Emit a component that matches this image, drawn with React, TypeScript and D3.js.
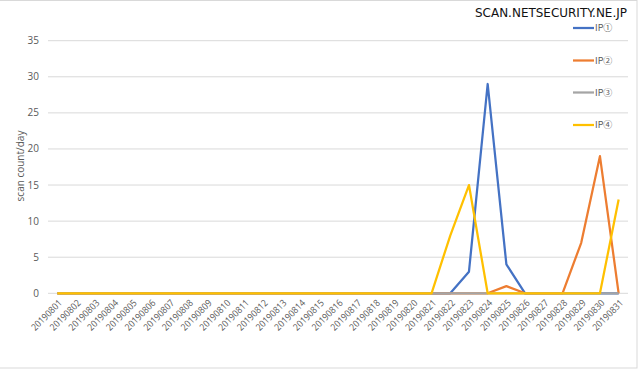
import { useEffect, useRef } from "react";
import * as d3 from "d3";

const dates = d3.range(1, 32).map((d) => `201908${String(d).padStart(2, "0")}`);

// index 0 = 20190801 ... index 30 = 20190831
const ip1 = [0, 0, 0, 0, 0, 0, 0, 0, 0, 0, 0, 0, 0, 0, 0, 0, 0, 0, 0, 0, 0, 0, 3, 29, 4, 0, 0, 0, 0, 0, 0];
const ip2 = [0, 0, 0, 0, 0, 0, 0, 0, 0, 0, 0, 0, 0, 0, 0, 0, 0, 0, 0, 0, 0, 0, 0, 0, 1, 0, 0, 0, 7, 19, 0];
const ip3 = [0, 0, 0, 0, 0, 0, 0, 0, 0, 0, 0, 0, 0, 0, 0, 0, 0, 0, 0, 0, 0, 0, 0, 0, 0, 0, 0, 0, 0, 0, 0];
const ip4 = [0, 0, 0, 0, 0, 0, 0, 0, 0, 0, 0, 0, 0, 0, 0, 0, 0, 0, 0, 0, 0, 8, 15, 0, 0, 0, 0, 0, 0, 0, 13];

const seriesNames = ["IP①", "IP②", "IP③", "IP④"];
const seriesColors = ["#4472c4", "#ed7d31", "#a5a5a5", "#ffc000"];
const yTicks = [0, 5, 10, 15, 20, 25, 30, 35];

export default function App() {
  const ref = useRef<SVGSVGElement>(null);

  useEffect(() => {
    if (!ref.current) return;
    const width = 640;
    const height = 371;
    const svg = d3.select(ref.current);
    svg.selectAll("*").remove();

    const font = "'Open Sans', 'Noto Sans', sans-serif";
    const margin = { top: 40.7, right: 12, bottom: 77.7, left: 48 };

    // frame
    svg
      .append("rect")
      .attr("x", -1)
      .attr("y", 0.5)
      .attr("width", 638)
      .attr("height", 367.5)
      .attr("fill", "#fff")
      .attr("stroke", "#d9d9d9");

    const x = d3
      .scaleBand<string>()
      .domain(dates)
      .range([margin.left, width - margin.right]);

    const y = d3
      .scaleLinear()
      .domain([0, 35])
      .range([height - margin.bottom, margin.top]);

    // gridlines
    svg
      .append("g")
      .selectAll("line")
      .data(yTicks)
      .join("line")
      .attr("x1", margin.left)
      .attr("x2", width - margin.right)
      .attr("y1", (d) => y(d))
      .attr("y2", (d) => y(d))
      .attr("stroke", "#d9d9d9")
      .attr("stroke-width", 1);

    // y tick labels
    svg
      .append("g")
      .selectAll("text")
      .data(yTicks)
      .join("text")
      .attr("x", 39)
      .attr("y", (d) => y(d))
      .attr("dy", "0.35em")
      .attr("text-anchor", "end")
      .attr("fill", "#595959")
      .attr("font-family", font)
      .attr("font-size", "10px")
      .text((d) => d);

    // x tick labels
    svg
      .append("g")
      .selectAll("text")
      .data(dates)
      .join("text")
      .attr("transform", (d) => `translate(${x(d)! + x.bandwidth() / 2 + 3},${y(0) + 8}) rotate(-45)`)
      .attr("text-anchor", "end")
      .attr("dy", "0.35em")
      .attr("textLength", 39)
      .attr("lengthAdjust", "spacingAndGlyphs")
      .attr("fill", "#595959")
      .attr("font-family", font)
      .attr("font-size", "9.5px")
      .text((d) => d);

    // y title
    svg
      .append("text")
      .attr("transform", `translate(24,166) rotate(-90)`)
      .attr("text-anchor", "middle")
      .attr("fill", "#595959")
      .attr("font-family", font)
      .attr("font-size", "10px")
      .text("scan count/day");

    const line = d3
      .line<number>()
      .x((_, i) => x(dates[i])! + x.bandwidth() / 2)
      .y((d) => y(d));

    const all = [ip1, ip2, ip3, ip4];
    all.forEach((vals, i) => {
      svg
        .append("path")
        .datum(vals)
        .attr("d", line)
        .attr("fill", "none")
        .attr("stroke", seriesColors[i])
        .attr("stroke-width", 2.25)
        .attr("stroke-linejoin", "round");
    });

    // legend
    const legendY = [28, 60.5, 92.5, 125];
    seriesNames.forEach((name, i) => {
      svg
        .append("line")
        .attr("x1", 573)
        .attr("x2", 594)
        .attr("y1", legendY[i])
        .attr("y2", legendY[i])
        .attr("stroke", seriesColors[i])
        .attr("stroke-width", 2.25);
      svg
        .append("text")
        .attr("x", 595)
        .attr("y", legendY[i])
        .attr("dy", "0.35em")
        .attr("fill", "#595959")
        .attr("font-family", "'Noto Sans CJK JP', sans-serif")
        .attr("font-size", "9px")
        .text(name);
    });

    // watermark
    svg
      .append("text")
      .attr("x", 475)
      .attr("y", 17)
      .attr("textLength", 152)
      .attr("lengthAdjust", "spacingAndGlyphs")
      .attr("fill", "#111")
      .attr("stroke", "#fff")
      .attr("stroke-width", 2)
      .attr("paint-order", "stroke")
      .attr("font-family", "'DejaVu Sans', sans-serif")
      .attr("font-size", "11.5px")
      .text("SCAN.NETSECURITY.NE.JP");
  }, []);

  return (
    <div style={{ position: "fixed", left: 0, top: 0 }}>
      <svg ref={ref} width={640} height={371} style={{ display: "block", background: "#fff" }} />
    </div>
  );
}
